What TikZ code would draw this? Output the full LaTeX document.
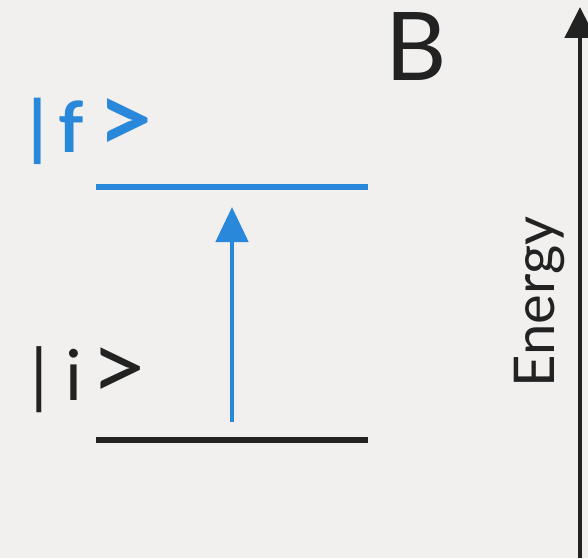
\documentclass[tikz,border=0pt]{standalone}
\usepackage{fontspec}
\setmainfont{Lato}
\usetikzlibrary{arrows.meta}
\definecolor{paper}{HTML}{F1F0EE}
\definecolor{ink}{HTML}{222222}
\definecolor{photon}{HTML}{2A88DB}
\newcommand{\bigket}{\scalebox{1.45}[1.35]{>}}
\tikzset{
  level/.style={line width=3.4pt},
  ketlabel/.style={anchor=base west, inner sep=0pt, font=\fontsize{40}{44}\selectfont},
}
\begin{document}
\begin{tikzpicture}
    % Background
    \fill[paper] (0,0) rectangle (11.76,11.16);
    \useasboundingbox (0,0) rectangle (11.76,11.16);
    % Energy axis
    \coordinate (axisbot) at (11.6,0);
    \coordinate (axistop) at (11.6,11.02);
    \draw[ink, line width=2.8pt, -{Triangle[width=0.6cm,length=0.62cm]}] (axisbot) -- (axistop);
    \node[ink, rotate=90, font=\fontsize{32}{35}\selectfont] (energy) at (10.78,5.12) {Energy};
    \node[ink, font=\fontsize{54}{60}\selectfont] (panel) at (8.32,10.22) {B};
    % Levels
    \coordinate (fleft) at (1.92,7.42);
    \coordinate (fright) at (7.36,7.42);
    \coordinate (ileft) at (1.92,2.36);
    \coordinate (iright) at (7.36,2.36);
    \draw[level, photon] (fleft) -- (fright);
    \draw[level, ink] (ileft) -- (iright);
    \node[ketlabel, photon, font=\fontsize{40}{44}\selectfont\bfseries] (fket) at (0.56,8.12) {|\hspace{7pt}f\hspace{7pt}\bigket};
    \node[ketlabel, ink] (iket) at (0.6,3.16) {|\hspace{10pt}i\hspace{4pt}\bigket};
    % Transition
    \coordinate (up0) at (4.64,2.72);
    \coordinate (up1) at (4.64,7.02);
    \draw[photon, line width=2.8pt, -{Triangle[width=0.64cm,length=0.7cm]}] (up0) -- (up1);
\end{tikzpicture}
\end{document}
